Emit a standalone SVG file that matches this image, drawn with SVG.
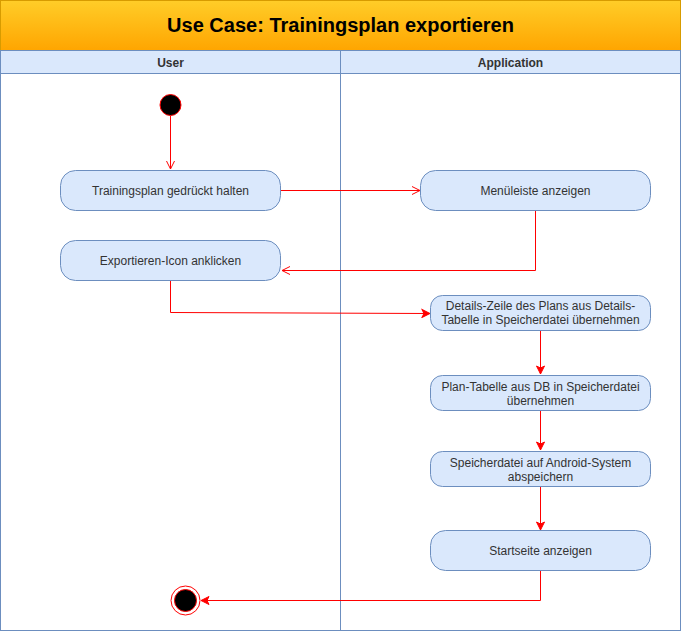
<svg xmlns="http://www.w3.org/2000/svg" width="681" height="633" viewBox="0 0 681 633">
<defs>
<linearGradient id="hdr" x1="0" y1="0" x2="0" y2="1">
<stop offset="0" stop-color="#ffcd28"/>
<stop offset="1" stop-color="#ffa500"/>
</linearGradient>
<marker id="open" markerWidth="10" markerHeight="10" refX="9" refY="5" orient="auto" markerUnits="userSpaceOnUse">
<path d="M1,1 L9,5 L1,9" fill="none" stroke="#ff0000" stroke-width="1"/>
</marker>
<marker id="block" markerWidth="10" markerHeight="10" refX="9" refY="5" orient="auto" markerUnits="userSpaceOnUse">
<path d="M1,1 L9,5 L1,9 L3,5 Z" fill="#ff0000" stroke="#ff0000" stroke-width="1"/>
</marker>
</defs>
<style>
.node{fill:#dae8fc;stroke:#6c8ebf;stroke-width:1}
.t{font-family:"Liberation Sans",Arial,sans-serif;font-size:12px;fill:#333333;text-anchor:middle}
.lh{font-family:"Liberation Sans",Arial,sans-serif;font-size:12px;font-weight:bold;fill:#333333;text-anchor:middle}
.edge{fill:none;stroke:#ff0000;stroke-width:1}
</style>
<rect x="0" y="0" width="681" height="633" fill="#ffffff"/>
<g id="pool">
<rect x="0.5" y="0.5" width="680" height="50" fill="url(#hdr)" stroke="#d79b00"/>
<text x="340.5" y="32" font-family="'Liberation Sans',Arial,sans-serif" font-size="20" font-weight="bold" fill="#000000" text-anchor="middle">Use Case: Trainingsplan exportieren</text>
<rect x="0.5" y="50.5" width="340" height="23" fill="#dae8fc" stroke="#6c8ebf"/>
<rect x="340.5" y="50.5" width="340" height="23" fill="#dae8fc" stroke="#6c8ebf"/>
<text class="lh" x="170.5" y="67">User</text>
<text class="lh" x="510.5" y="67">Application</text>
<rect x="0.5" y="73.5" width="340" height="557" fill="none" stroke="#6c8ebf"/>
<rect x="340.5" y="73.5" width="340" height="557" fill="none" stroke="#6c8ebf"/>
</g>
<g id="connectors">
<path class="edge" d="M170.5,116 L170.5,169" marker-end="url(#open)"/>
<path class="edge" d="M281,190.5 L420,190.5" marker-end="url(#open)"/>
<path class="edge" d="M535.5,211 L535.5,270.5 L282,270.5" marker-end="url(#open)"/>
<path class="edge" d="M170.5,281 L170.5,312.5 L430,313.5" marker-end="url(#block)"/>
<path class="edge" d="M540.5,331 L540.5,374" marker-end="url(#block)"/>
<path class="edge" d="M540.5,411 L540.5,450" marker-end="url(#block)"/>
<path class="edge" d="M540.5,487 L540.5,530" marker-end="url(#block)"/>
<path class="edge" d="M540.5,571 L540.5,600.5 L201,600.5" marker-end="url(#block)"/>
</g>
<g id="start">
<circle cx="170.5" cy="105" r="10.5" fill="#000000" stroke="#ff0000"/>
</g>
<g id="n1">
<rect class="node" x="60.5" y="170.5" width="220" height="40" rx="15"/>
<text class="t" x="170.5" y="195">Trainingsplan gedrückt halten</text>
</g>
<g id="n2">
<rect class="node" x="60.5" y="240.5" width="220" height="40" rx="15"/>
<text class="t" x="170.5" y="265">Exportieren-Icon anklicken</text>
</g>
<g id="n3">
<rect class="node" x="420.5" y="170.5" width="230" height="40" rx="15"/>
<text class="t" x="535.5" y="195">Menüleiste anzeigen</text>
</g>
<g id="n4">
<rect class="node" x="430.5" y="295.5" width="220" height="35" rx="12"/>
<text class="t" x="540.5" y="310">Details-Zeile des Plans aus Details-</text>
<text class="t" x="540.5" y="324">Tabelle in Speicherdatei übernehmen</text>
</g>
<g id="n5">
<rect class="node" x="430.5" y="375.5" width="220" height="35" rx="12"/>
<text class="t" x="540.5" y="391">Plan-Tabelle aus DB in Speicherdatei</text>
<text class="t" x="540.5" y="405">übernehmen</text>
</g>
<g id="n6">
<rect class="node" x="430.5" y="451.5" width="220" height="35" rx="12"/>
<text class="t" x="540.5" y="467">Speicherdatei auf Android-System</text>
<text class="t" x="540.5" y="481">abspeichern</text>
</g>
<g id="n7">
<rect class="node" x="430.5" y="530.5" width="220" height="40" rx="15"/>
<text class="t" x="540.5" y="555">Startseite anzeigen</text>
</g>
<g id="end">
<circle cx="185.5" cy="600.5" r="14.5" fill="#ffffff" stroke="#ff0000"/>
<circle cx="185.5" cy="600.5" r="11" fill="#000000" stroke="#ff0000"/>
</g>
</svg>
